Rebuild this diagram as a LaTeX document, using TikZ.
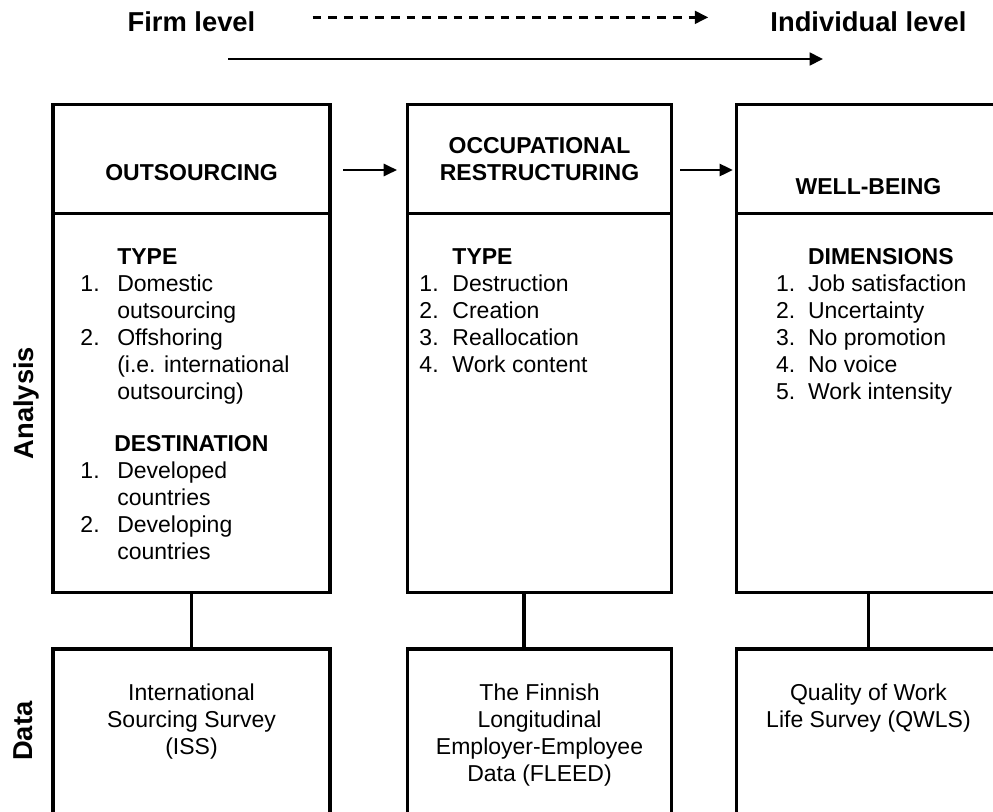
\documentclass[tikz,border=0pt]{standalone}
\usepackage{fontspec}
\setmainfont{Liberation Sans}
\usetikzlibrary{positioning,calc,arrows.meta}
\newcommand{\boxfont}{\fontsize{17.25}{20.25}\selectfont}
\newcommand{\levelfont}{\fontsize{20.5}{24}\selectfont\bfseries}
\tikzset{
    stageBase/.style={
        rectangle,
        draw,
        line width=2.5pt,
        inner sep=0pt,
        outer sep=0pt
    },
    % Stage parts
    stageHead/.style={stageBase, minimum width=#1, minimum height=82pt},
    stageBody/.style={stageBase, minimum width=#1, minimum height=284.1pt},
    stageData/.style={stageBase, minimum width=#1, minimum height=173pt},
    % Texts
    stageTitle/.style={inner sep=0pt, font=\boxfont\bfseries, align=center},
    stageList/.style={inner sep=0pt, font=\boxfont},
    stageSource/.style={inner sep=0pt, font=\boxfont, align=center},
    levelLabel/.style={inner sep=0pt, font=\levelfont},
    % Arrows
    stageArrow/.style={-{Triangle[length=10pt, width=9pt]}, line width=2pt},
    levelArrow/.style={-{Triangle[length=10pt, width=9.5pt]}, line width=2pt},
    stageLink/.style={line width=2.5pt}
}

\begin{document}
\begin{tikzpicture}[x=0.75pt, y=-0.75pt]
\useasboundingbox (0,0) rectangle (993,811);
\clip (0,0) rectangle (993,811);

\node[stageHead=207.75pt] (head1) at (191.5,159) {};
\node[stageHead=197.7pt, right=58.3pt of head1] (head2) {};
\node[stageHead=197.7pt, right=49pt of head2] (head3) {};
\node[stageBody=207.75pt, below=0pt of head1] (body1) {};
\node[stageBody=197.7pt, below=0pt of head2] (body2) {};
\node[stageBody=197.7pt, below=0pt of head3] (body3) {};
\node[stageData=207.75pt, below=42.5pt of body1] (data1) {};
\node[stageData=197.7pt, below=42.5pt of body2] (data2) {};
\node[stageData=197.7pt, below=42.5pt of body3] (data3) {};

\node[stageTitle] (title1) at ([yshift=-10.5pt]head1.center) {OUTSOURCING};
\node[stageTitle] (title2) at (head2.center) {OCCUPATIONAL\\RESTRUCTURING};
\node[stageTitle] (title3) at ([yshift=-21pt]head3.center) {WELL-BEING};

\node[stageList, below right=23.7pt and 20.4pt of body1.north west] (list1) {%
\begin{tabular}{@{}p{27.6pt}@{}l@{}}
   & \textbf{TYPE}\\
1. & Domestic\\
   & outsourcing\\
2. & Offshoring\\
   & (i.e. international\\
   & outsourcing)\\[18.75pt]
   & \hspace*{-2.25pt}\textbf{DESTINATION}\\
1. & Developed\\
   & countries\\
2. & Developing\\
   & countries
\end{tabular}};
\node[stageList, below right=23.7pt and 8.6pt of body2.north west] (list2) {%
\begin{tabular}{@{}p{24.75pt}@{}l@{}}
   & \textbf{TYPE}\\
1. & Destruction\\
2. & Creation\\
3. & Reallocation\\
4. & Work content
\end{tabular}};
\node[stageList, below right=23.7pt and 29.3pt of body3.north west] (list3) {%
\begin{tabular}{@{}p{24pt}@{}l@{}}
   & \textbf{DIMENSIONS}\\
1. & Job satisfaction\\
2. & Uncertainty\\
3. & No promotion\\
4. & No voice\\
5. & Work intensity
\end{tabular}};

\node[stageSource, below=24pt of data1.north] (src1) {\strut International\\Sourcing Survey\\(ISS)};
\node[stageSource, below=24pt of data2.north] (src2) {\strut The Finnish\\Longitudinal\\Employer-Employee\\Data (FLEED)};
\node[stageSource, below=24pt of data3.north] (src3) {\strut Quality of Work\\Life Survey (QWLS)};

\node[levelLabel, rotate=90] (analysis) at ($(body1.west)+(-27,0)$) {Analysis};
\node[levelLabel, rotate=90] (data) at ($(data1.north west)+(-30,82)$) {Data};

\node[levelLabel, above=54pt of head1] (firm) {Firm level};
\node[levelLabel, above=54pt of head3] (indiv) {Individual level};
\coordinate (flowStart) at (228,59);
\coordinate (flowEnd) at (823,59);

\draw[levelArrow, dash pattern=on 6.5pt off 5.25pt, shorten <=42.75pt, shorten >=46.5pt] ([yshift=3.5pt]firm.east) -- ([yshift=3.5pt]indiv.west);
\draw[levelArrow] (flowStart) -- (flowEnd);
\draw[stageArrow, shorten <=9.75pt, shorten >=8pt] ([yshift=-8.25pt]head1.east) -- ([yshift=-8.25pt]head2.west);
\draw[stageArrow, shorten <=6.5pt, shorten >=2.8pt] ([yshift=-8.25pt]head2.east) -- ([yshift=-8.25pt]head3.west);
\draw[stageLink] (body1) -- (data1);
\draw[stageLink] ([xshift=-11.6pt]body2.south) -- ([xshift=-11.6pt]data2.north);
\draw[stageLink] (body3) -- (data3);
\end{tikzpicture}
\end{document}
